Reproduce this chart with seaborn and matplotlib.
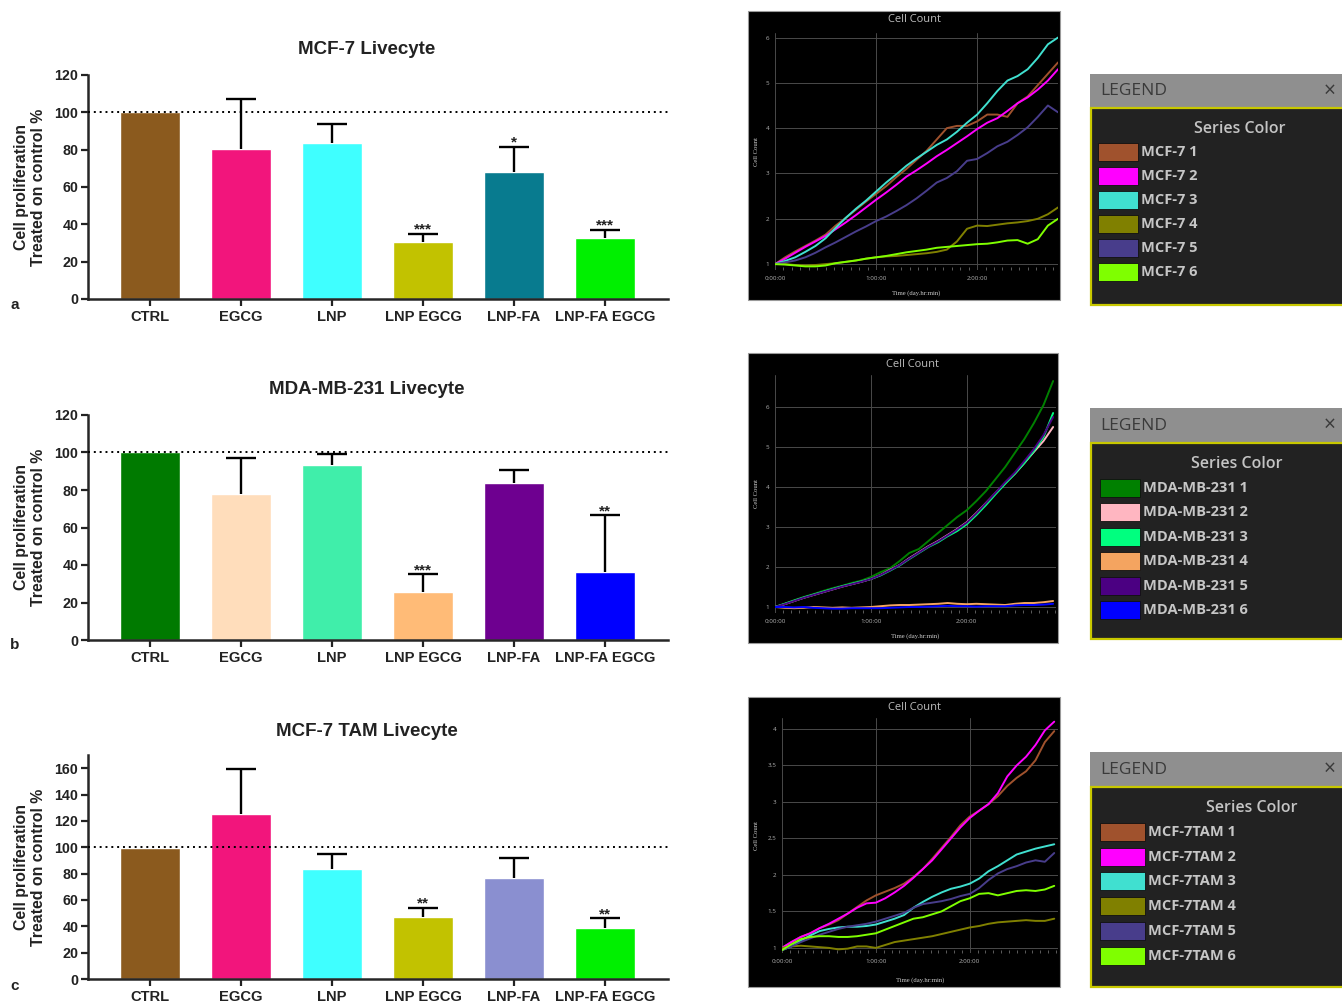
import numpy as np
import pandas as pd
import matplotlib
matplotlib.use("Agg")
import matplotlib.pyplot as plt
import seaborn as sns
from matplotlib.patches import Rectangle

# ------------------------------------------------------------------ data
treatments = ["CTRL", "EGCG", "LNP", "LNP EGCG", "LNP-FA", "LNP-FA EGCG"]

mcf7_title = "MCF-7 Livecyte"
mcf7_values = [100, 80.5, 83.5, 30.5, 68, 32.5]
mcf7_err_upper = [0, 26.5, 10.5, 4.5, 13.5, 4.5]
mcf7_stars = ["", "", "", "***", "*", "***"]
mcf7_bar_colors = ["#8B5A1E", "#F2157C", "#3FFFFF", "#C2C200", "#087B8F", "#00F000"]
mcf7_yticks = [0, 20, 40, 60, 80, 100, 120]

mda_title = "MDA-MB-231 Livecyte"
mda_values = [100, 78, 93.5, 25.5, 83.5, 36.5]
mda_err_upper = [0, 19, 5.5, 9.5, 7, 30]
mda_stars = ["", "", "", "***", "", "**"]
mda_bar_colors = ["#007A00", "#FFDDBB", "#40EEAA", "#FFBB77", "#6E0090", "#0000FF"]
mda_yticks = [0, 20, 40, 60, 80, 100, 120]

tam_title = "MCF-7 TAM Livecyte"
tam_values = [99.5, 125.5, 83.5, 47, 77, 39]
tam_err_upper = [0, 34, 11.5, 7, 15, 7]
tam_stars = ["", "", "", "**", "", "**"]
tam_bar_colors = ["#8B5A1E", "#F2157C", "#3FFFFF", "#C2C200", "#8A8FD0", "#00F000"]
tam_yticks = [0, 20, 40, 60, 80, 100, 120, 140, 160]

# Livecyte cell-count curves (time in days)
mcf7_times = [0.0, 0.1, 0.2, 0.3, 0.4, 0.5, 0.6, 0.7, 0.8, 0.9, 1.0, 1.1, 1.2, 1.3, 1.4,
              1.5, 1.6, 1.7, 1.8, 1.9, 2.0, 2.1, 2.2, 2.3, 2.4, 2.5, 2.6, 2.7, 2.8]
mcf7_names = ["MCF-7 1", "MCF-7 2", "MCF-7 3", "MCF-7 4", "MCF-7 5", "MCF-7 6"]
mcf7_line_colors = ["#A0522D", "#FF00FF", "#40E0D0", "#808000", "#483D8B", "#7FFF00"]
mcf7_s1 = [1.0, 1.15, 1.28, 1.4, 1.52, 1.65, 1.85, 2.02, 2.2, 2.38, 2.55, 2.72, 2.92, 3.1, 3.3,
           3.5, 3.75, 4.0, 4.05, 4.05, 4.15, 4.3, 4.3, 4.25, 4.55, 4.7, 4.95, 5.2, 5.45]
mcf7_s2 = [1.0, 1.12, 1.25, 1.38, 1.5, 1.62, 1.77, 1.92, 2.08, 2.25, 2.42, 2.58, 2.75, 2.93, 3.07,
           3.22, 3.38, 3.52, 3.67, 3.82, 3.98, 4.12, 4.22, 4.38, 4.55, 4.68, 4.85, 5.05, 5.3]
mcf7_s3 = [1.0, 1.07, 1.15, 1.27, 1.4, 1.57, 1.8, 2.02, 2.22, 2.4, 2.6, 2.8, 2.98, 3.17, 3.33,
           3.48, 3.63, 3.75, 3.92, 4.12, 4.3, 4.55, 4.82, 5.05, 5.15, 5.3, 5.55, 5.85, 6.0]
mcf7_s4 = [1.0, 1.0, 0.98, 0.97, 0.98, 1.0, 1.02, 1.05, 1.08, 1.12, 1.15, 1.17, 1.18, 1.2, 1.22,
           1.24, 1.27, 1.32, 1.5, 1.78, 1.85, 1.84, 1.87, 1.9, 1.92, 1.95, 2.0, 2.1, 2.25]
mcf7_s5 = [1.0, 1.04, 1.08, 1.15, 1.25, 1.37, 1.48, 1.6, 1.72, 1.83, 1.95, 2.05, 2.17, 2.3, 2.45,
           2.62, 2.8, 2.9, 3.05, 3.28, 3.32, 3.45, 3.6, 3.7, 3.85, 4.02, 4.25, 4.5, 4.35]
mcf7_s6 = [1.0, 0.99, 0.97, 0.95, 0.95, 0.97, 1.02, 1.05, 1.08, 1.12, 1.15, 1.18, 1.22, 1.26, 1.29,
           1.32, 1.36, 1.38, 1.4, 1.42, 1.44, 1.45, 1.48, 1.52, 1.53, 1.45, 1.55, 1.85, 2.0]

mda_times = [0.0, 0.1, 0.2, 0.3, 0.4, 0.5, 0.6, 0.7, 0.8, 0.9, 1.0, 1.1, 1.2, 1.3, 1.4,
             1.5, 1.6, 1.7, 1.8, 1.9, 2.0, 2.1, 2.2, 2.3, 2.4, 2.5, 2.6, 2.7, 2.8, 2.9]
mda_names = ["MDA-MB-231 1", "MDA-MB-231 2", "MDA-MB-231 3", "MDA-MB-231 4", "MDA-MB-231 5", "MDA-MB-231 6"]
mda_line_colors = ["#008000", "#FFB6C1", "#00FF7F", "#F4A460", "#4B0082", "#0000FF"]
mda_s1 = [1.0, 1.08, 1.17, 1.25, 1.32, 1.4, 1.47, 1.53, 1.6, 1.66, 1.75, 1.87, 1.97, 2.15, 2.35,
          2.45, 2.65, 2.85, 3.05, 3.25, 3.42, 3.65, 3.9, 4.2, 4.5, 4.85, 5.2, 5.6, 6.05, 6.65]
mda_s2 = [1.0, 1.07, 1.15, 1.23, 1.3, 1.37, 1.44, 1.51, 1.57, 1.63, 1.7, 1.8, 1.93, 2.05, 2.22,
          2.37, 2.52, 2.65, 2.8, 2.95, 3.12, 3.35, 3.6, 3.85, 4.1, 4.33, 4.6, 4.88, 5.15, 5.5]
mda_s3 = [1.0, 1.08, 1.16, 1.24, 1.31, 1.38, 1.45, 1.52, 1.58, 1.64, 1.7, 1.79, 1.91, 2.04, 2.2,
          2.35, 2.5, 2.62, 2.77, 2.9, 3.07, 3.3, 3.55, 3.82, 4.08, 4.33, 4.6, 4.9, 5.25, 5.85]
mda_s4 = [1.0, 0.98, 0.97, 0.98, 1.0, 0.99, 0.98, 0.99, 0.98, 0.99, 1.0, 1.02, 1.04, 1.05, 1.05,
          1.06, 1.07, 1.08, 1.1, 1.08, 1.07, 1.08, 1.07, 1.06, 1.05, 1.08, 1.1, 1.1, 1.12, 1.15]
mda_s5 = [1.0, 1.07, 1.15, 1.23, 1.3, 1.37, 1.44, 1.51, 1.57, 1.63, 1.7, 1.8, 1.92, 2.05, 2.21,
          2.36, 2.51, 2.64, 2.79, 2.94, 3.11, 3.34, 3.6, 3.86, 4.12, 4.36, 4.65, 4.95, 5.3, 5.75]
mda_s6 = [1.0, 1.0, 0.99, 1.0, 0.98, 0.97, 0.96, 0.96, 0.97, 0.97, 0.97, 0.97, 0.98, 0.99, 1.0,
          1.0, 1.01, 1.02, 1.03, 1.02, 1.02, 1.01, 1.02, 1.02, 1.02, 1.04, 1.05, 1.05, 1.06, 1.08]

tam_times = [0.0, 0.1, 0.2, 0.3, 0.4, 0.5, 0.6, 0.7, 0.8, 0.9, 1.0, 1.1, 1.2, 1.3, 1.4,
             1.5, 1.6, 1.7, 1.8, 1.9, 2.0, 2.1, 2.2, 2.3, 2.4, 2.5, 2.6, 2.7, 2.8, 2.9]
tam_names = ["MCF-7TAM 1", "MCF-7TAM 2", "MCF-7TAM 3", "MCF-7TAM 4", "MCF-7TAM 5", "MCF-7TAM 6"]
tam_line_colors = ["#A0522D", "#FF00FF", "#40E0D0", "#808000", "#483D8B", "#7FFF00"]
tam_s1 = [1.0, 1.08, 1.15, 1.2, 1.27, 1.32, 1.38, 1.47, 1.56, 1.65, 1.72, 1.77, 1.82, 1.88, 1.97,
          2.08, 2.22, 2.37, 2.52, 2.68, 2.8, 2.88, 2.97, 3.08, 3.22, 3.33, 3.42, 3.57, 3.82, 3.97]
tam_s2 = [1.0, 1.08, 1.15, 1.2, 1.27, 1.33, 1.4, 1.47, 1.55, 1.61, 1.62, 1.68, 1.76, 1.85, 1.96,
          2.08, 2.2, 2.35, 2.5, 2.65, 2.78, 2.88, 2.97, 3.12, 3.35, 3.5, 3.62, 3.78, 3.98, 4.1]
tam_s3 = [0.97, 1.02, 1.1, 1.17, 1.23, 1.26, 1.28, 1.29, 1.29, 1.3, 1.32, 1.36, 1.4, 1.45, 1.55,
          1.63, 1.7, 1.76, 1.81, 1.84, 1.88, 1.95, 2.05, 2.12, 2.2, 2.28, 2.32, 2.36, 2.39, 2.42]
tam_s4 = [1.0, 1.02, 1.03, 1.02, 1.01, 1.0, 0.98, 0.99, 1.02, 1.02, 1.0, 1.04, 1.08, 1.1, 1.12,
          1.14, 1.16, 1.19, 1.22, 1.25, 1.28, 1.3, 1.33, 1.35, 1.36, 1.37, 1.38, 1.37, 1.37, 1.4]
tam_s5 = [0.97, 1.02, 1.08, 1.13, 1.18, 1.22, 1.26, 1.29, 1.31, 1.33, 1.36, 1.4, 1.44, 1.48, 1.55,
          1.6, 1.62, 1.64, 1.67, 1.71, 1.74, 1.82, 1.93, 2.02, 2.08, 2.12, 2.17, 2.2, 2.18, 2.3]
tam_s6 = [0.97, 1.05, 1.12, 1.15, 1.16, 1.16, 1.15, 1.15, 1.16, 1.18, 1.2, 1.25, 1.3, 1.35, 1.4,
          1.42, 1.46, 1.5, 1.57, 1.64, 1.68, 1.74, 1.75, 1.72, 1.75, 1.78, 1.79, 1.78, 1.8, 1.85]

time_ticks = [0, 1, 2]
time_tick_labels = ["0:00:00", "1:00:00", "2:00:00"]

# ------------------------------------------------------------------ style
sns.set_style("ticks")
plt.rcParams["font.family"] = ["Liberation Sans", "DejaVu Sans"]
plt.rcParams["axes.linewidth"] = 1.5

W, H = 1342, 1005
fig = plt.figure(figsize=(W / 100, H / 100), dpi=100)
fig.patch.set_facecolor("white")


def rect_px(x0, y0, x1, y1):
    return [x0 / W, 1 - y1 / H, (x1 - x0) / W, (y1 - y0) / H]


def fx(x):
    return x / W


def fy(y):
    return 1 - y / H


# ------------------------------------------------------------------ bar panels
def bar_panel(box, ymax, title, title_y, letter, letter_y, values, errs, stars, colors, yticks):
    ax = fig.add_axes(rect_px(*box))
    df = pd.DataFrame({"treatment": treatments, "value": values})
    sns.barplot(data=df, x="treatment", y="value", hue="treatment", order=treatments,
                hue_order=treatments, palette=colors, saturation=1, width=0.66,
                legend=False, errorbar=None, ax=ax, zorder=2)
    pos = np.arange(len(treatments))
    vals = np.array(values, dtype=float)
    e = np.array(errs, dtype=float)
    m = e > 0
    eb = ax.errorbar(pos[m], vals[m], yerr=[np.zeros(m.sum()), e[m]], fmt="none",
                     ecolor="black", elinewidth=1.7, capsize=10.5, capthick=1.7, zorder=3)
    # keep only the upper cap (one-sided error bars)
    caplines = eb[1]
    if len(caplines) == 2:
        caplines[0].set_visible(False)
    for p, v, er, s in zip(pos, vals, e, stars):
        if s:
            ax.text(p, v + er - ymax * 0.012, s, ha="center", va="bottom",
                    fontsize=11, fontweight="bold", color="#222222", zorder=4)
    ax.axhline(100, color="black", lw=1.4, ls=(0, (1, 2)), zorder=4)
    ax.set_xlim(-0.68, 5.69)
    ax.set_ylim(0, ymax)
    ax.set_yticks(yticks)
    ax.set_xlabel("")
    ax.set_ylabel("")
    sns.despine(ax=ax)
    ax.spines["left"].set_linewidth(1.8)
    ax.spines["bottom"].set_linewidth(1.8)
    ax.tick_params(axis="both", length=5, width=1.6, color="#222222",
                   labelsize=10.3, labelcolor="#222222", pad=2)
    ax.tick_params(axis="x", pad=3, labelsize=10.6)
    for lbl in ax.get_xticklabels() + ax.get_yticklabels():
        lbl.set_fontweight("bold")
    ax.set_facecolor("white")
    fig.text(fx(367), fy(title_y), title, ha="center", va="center",
             fontsize=13.5, fontweight="bold", color="#222222")
    cy = (box[1] + box[3]) / 2
    fig.text(fx(30), fy(cy), "Cell proliferation\nTreated on control %", rotation=90,
             ha="center", va="center", multialignment="center",
             fontsize=11.4, fontweight="bold", color="#222222", linespacing=1.15)
    fig.text(fx(15), fy(letter_y), letter, ha="center", va="center",
             fontsize=11, fontweight="bold", color="#222222")


bar_panel((88, 75, 668, 299), 120, mcf7_title, 50, "a", 305,
          mcf7_values, mcf7_err_upper, mcf7_stars, mcf7_bar_colors, mcf7_yticks)
bar_panel((88, 415, 668, 640), 120, mda_title, 390, "b", 645,
          mda_values, mda_err_upper, mda_stars, mda_bar_colors, mda_yticks)
bar_panel((88, 755, 668, 979), 170, tam_title, 731, "c", 986,
          tam_values, tam_err_upper, tam_stars, tam_bar_colors, tam_yticks)


# ------------------------------------------------------------------ Livecyte line panels
def line_panel(frame, box, title_y, xlabel_y, times, names, series, colors, xlim, ylim, yticks):
    fig.add_artist(Rectangle((fx(frame[0]), fy(frame[3])), (frame[2] - frame[0]) / W,
                             (frame[3] - frame[1]) / H, transform=fig.transFigure,
                             facecolor="black", edgecolor="#9a9a9a", lw=0.8, zorder=0))
    ax = fig.add_axes(rect_px(*box))
    ax.set_facecolor("black")
    rows = []
    for n, s in zip(names, series):
        for t, v in zip(times, s):
            rows.append((n, t, v))
    df = pd.DataFrame(rows, columns=["series", "time", "count"])
    sns.lineplot(data=df, x="time", y="count", hue="series", hue_order=names,
                 palette=dict(zip(names, colors)), legend=False, errorbar=None,
                 estimator=None, lw=1.4, ax=ax)
    ax.set_xlim(*xlim)
    ax.set_ylim(*ylim)
    ax.set_xticks(time_ticks)
    ax.set_xticklabels(time_tick_labels)
    ax.set_xticks([k / 12 for k in range(1, int(xlim[1] * 12) + 1)], minor=True)
    ax.set_yticks(yticks)
    ax.set_yticklabels([f"{v:g}" for v in yticks])
    for sp in ax.spines.values():
        sp.set_visible(False)
    ax.grid(True, which="major", color="#4a4a4a", lw=0.7)
    ax.tick_params(axis="both", which="major", length=0, labelsize=4.5,
                   labelcolor="#b0b0b0", pad=4)
    ax.tick_params(axis="x", which="minor", length=2, width=0.5, color="#808080",
                   direction="in", bottom=True)
    ax.set_xlabel("")
    ax.set_ylabel("")
    for lbl in ax.get_xticklabels() + ax.get_yticklabels():
        lbl.set_family(["Open Sans", "DejaVu Sans"])
    cx = (frame[0] + frame[2]) / 2 + 10
    fig.text(fx(cx), fy(title_y), "Cell Count", ha="center", va="center",
             fontsize=8, color="#bdbdbd", family=["Open Sans", "DejaVu Sans"])
    fig.text(fx((box[0] + box[2]) / 2), fy(xlabel_y), "Time (day.hr:min)", ha="center",
             va="center", fontsize=4.8, color="#cfcfcf", family=["Liberation Serif", "DejaVu Serif"])
    fig.text(fx(757), fy((box[1] + box[3]) / 2), "Cell Count", rotation=90, ha="center",
             va="center", fontsize=4.8, color="#cfcfcf", family=["Liberation Serif", "DejaVu Serif"])


line_panel((748, 11, 1060, 300), (775, 33, 1058, 270), 20, 293, mcf7_times, mcf7_names,
           [mcf7_s1, mcf7_s2, mcf7_s3, mcf7_s4, mcf7_s5, mcf7_s6], mcf7_line_colors,
           (0, 2.8), (0.87, 6.1), [1, 2, 3, 4, 5, 6])
line_panel((748, 353, 1058, 643), (775, 375, 1056, 613), 364, 636, mda_times, mda_names,
           [mda_s1, mda_s2, mda_s3, mda_s4, mda_s5, mda_s6], mda_line_colors,
           (0, 2.93), (0.85, 6.8), [1, 2, 3, 4, 5, 6])
line_panel((748, 697, 1060, 987), (782, 718, 1058, 953), 707, 980, tam_times, tam_names,
           [tam_s1, tam_s2, tam_s3, tam_s4, tam_s5, tam_s6], tam_line_colors,
           (0, 2.94), (0.93, 4.15), [1, 1.5, 2, 2.5, 3, 3.5, 4])


# ------------------------------------------------------------------ legend panels
def legend_panel(x0, hdr_top, hdr_bot, body_bot, sc_x, sc_y, row0, dy, sw_x0, sw_x1, lab_x,
                 names, colors):
    ax = fig.add_axes(rect_px(x0, hdr_top, W, body_bot))
    ax.set_xlim(x0, W)
    ax.set_ylim(body_bot, hdr_top)
    ax.axis("off")
    ax.add_patch(Rectangle((x0, hdr_top), W - x0 + 5, hdr_bot - hdr_top,
                           facecolor="#8f8f8f", edgecolor="none", clip_on=False))
    ax.add_patch(Rectangle((x0 + 1, hdr_bot), W - x0 + 5, body_bot - hdr_bot - 1.5,
                           facecolor="#222222", edgecolor="#C8C800", lw=1.6, clip_on=False))
    fam = ["Open Sans", "DejaVu Sans"]
    ax.text(x0 + 10, (hdr_top + hdr_bot) / 2, "LEGEND", ha="left", va="center",
            fontsize=12.5, color="#3a3a3a", family=fam)
    ax.text(W - 12, (hdr_top + hdr_bot) / 2, "\u00d7", ha="center", va="center",
            fontsize=15, color="#3a3a3a", family=fam)
    ax.text(sc_x, sc_y, "Series Color", ha="center", va="center", fontsize=11.5,
            fontweight="semibold", color="#c4c4c4", family=fam)
    for i, (n, c) in enumerate(zip(names, colors)):
        yc = row0 + dy * i
        ax.add_patch(Rectangle((sw_x0, yc - 9), sw_x1 - sw_x0, 18, facecolor=c,
                               edgecolor="#101010", lw=0.6))
        ax.text(lab_x, yc, n, ha="left", va="center", fontsize=10.5, fontweight="bold",
                color="#c6c6c6", family=fam)


legend_panel(1090, 74, 108, 307, 1240, 129, 152, 24, 1098, 1138, 1141,
             mcf7_names, mcf7_line_colors)
legend_panel(1090, 408, 443, 640, 1237, 464, 488, 24.4, 1100, 1140, 1143,
             mda_names, mda_line_colors)
legend_panel(1090, 752, 787, 988, 1252, 808, 832, 24.7, 1100, 1145, 1148,
             tam_names, tam_line_colors)

fig.savefig("out.png", dpi=100, facecolor="white")
